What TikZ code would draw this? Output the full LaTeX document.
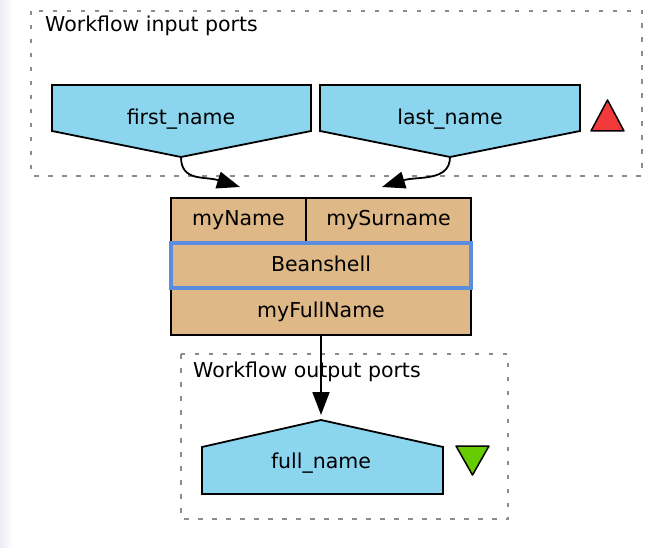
\documentclass[tikz,border=0pt]{standalone}
\usepackage{fontspec}
\setmainfont{DejaVu Sans}
\usetikzlibrary{arrows.meta}

\definecolor{portblue}{RGB}{139,213,238}
\definecolor{procfill}{RGB}{222,184,135}
\definecolor{selblue}{RGB}{92,140,222}
\definecolor{groupgray}{RGB}{140,140,140}
\definecolor{upred}{RGB}{242,58,58}
\definecolor{downgreen}{RGB}{102,204,0}
\definecolor{edgeshade}{RGB}{236,236,245}

\begin{document}
\begin{tikzpicture}[x=1pt,y=-1pt,
  txt/.style={font=\fontsize{20.5}{24}\selectfont, inner sep=0pt,
              text height=15pt, text depth=4pt},
  portshape/.style={draw=black, fill=portblue, line width=1.8pt, line join=miter},
  procbox/.style={txt, draw=black, fill=procfill, line width=1.8pt},
  selbox/.style={txt, draw=selblue, fill=procfill, line width=3.6pt},
  grouprect/.style={draw=groupgray, line width=1.6pt, dash pattern=on 4.5pt off 9.5pt},
  link/.style={draw=black, line width=1.8pt, -{Triangle[length=23pt,width=17pt]}},
  marker/.style={draw=black, line width=1.5pt, line join=round}]

% page and faint left edge
\useasboundingbox (0,0) rectangle (664,548);
\fill[white] (0,0) rectangle (664,548);
\shade[left color=edgeshade, right color=white] (0,0) rectangle (13,548);

% workflow input ports group
\draw[grouprect] (31,11) rectangle (642,176);
\node[txt, anchor=base west] (inLabel) at (45,32) {Workflow input ports};

\draw[portshape] (52,85) -- (311,85) -- (311,131) -- (181,157) -- (52,131) -- cycle;
\draw[portshape] (320,85) -- (580,85) -- (580,131) -- (450,157) -- (320,131) -- cycle;
\node[txt] (firstName) at (181,119.5) {first\_name};
\node[txt] (lastName) at (450,119.5) {last\_name};
\coordinate (firstTip) at (181,157);
\coordinate (lastTip) at (450,157);

\draw[marker, fill=upred] (591,131) -- (624,131) -- (607.5,100) -- cycle;

% Beanshell processor
\node[procbox, minimum width=135pt, minimum height=44pt] (inA) at (238.5,220) {myName};
\node[procbox, minimum width=165pt, minimum height=44pt] (inB) at (388.5,220) {mySurname};
\node[procbox, minimum width=300pt, minimum height=47pt] (outP) at (321,311.5) {myFullName};
\node[selbox, minimum width=300pt, minimum height=45pt] (bean) at (321,265.5) {Beanshell};

\coordinate (inAEnd) at (240,187);
\coordinate (inBEnd) at (382,187);
\draw[link] (firstTip) .. controls (181,182) and (205,176) .. (inAEnd);
\draw[link] (lastTip) .. controls (450,182) and (417,176) .. (inBEnd);

% workflow output ports group
\draw[grouprect] (181,354) rectangle (508,519);
\node[txt, anchor=base west] (outLabel) at (193,377) {Workflow output ports};

\draw[portshape] (202,447) -- (321,420) -- (443,447) -- (443,494) -- (202,494) -- cycle;
\node[txt] (fullName) at (321,462.5) {full\_name};
\coordinate (fullTop) at (321,415);

\draw[marker, fill=downgreen] (456,446) -- (489,446) -- (472.5,475) -- cycle;

\draw[link] (outP.south) -- (fullTop);
\end{tikzpicture}
\end{document}
